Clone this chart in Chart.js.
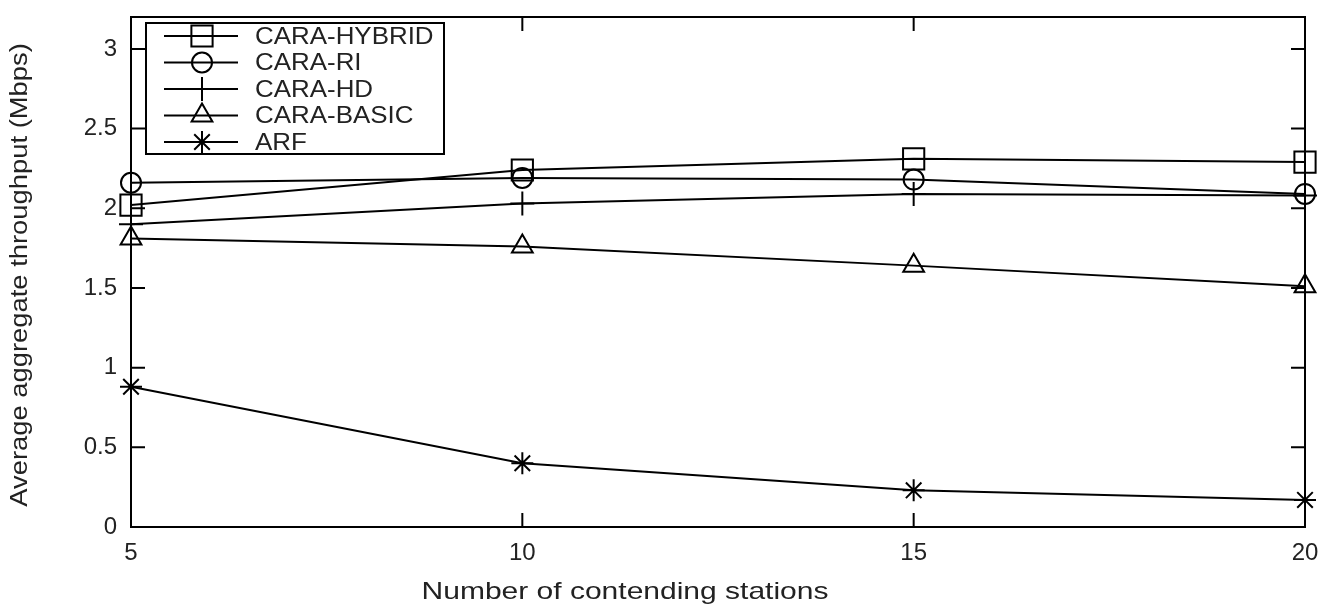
<!DOCTYPE html>
<html>
<head>
<meta charset="utf-8">
<script src="https://cdn.jsdelivr.net/npm/chart.js@4.4.0/dist/chart.umd.min.js"></script>
<style>
    body { margin: 0; background: #fff; }
    #wrap { width: 1327px; height: 606px; position: relative; }
</style>
</head>
<body>
<div id="wrap"><canvas id="throughputChart"></canvas></div>
<script>
// Data
const stations = [5, 10, 15, 20];
const caraHybrid = [2.02, 2.24, 2.31, 2.29];
const caraRi = [2.16, 2.19, 2.18, 2.09];
const caraHd = [1.9, 2.03, 2.09, 2.08];
const caraBasic = [1.81, 1.76, 1.64, 1.51];
const arf = [0.88, 0.4, 0.23, 0.17];

const xTicks = [5, 10, 15, 20];
const yTicks = [0, 0.5, 1, 1.5, 2, 2.5, 3];

const xTitle = 'Number of contending stations';
const yTitle = 'Average aggregate throughput (Mbps)';

const FONT = "'Liberation Sans', Arial, sans-serif";
const INK = '#222';

function toPoints(values) {
    return stations.map((x, i) => ({ x: x, y: values[i] }));
}

function makeSet(label, values, style, radius) {
    return {
        label: label,
        data: toPoints(values),
        borderColor: '#000',
        backgroundColor: 'rgba(0,0,0,0)',
        borderWidth: 2,
        pointStyle: style,
        pointRadius: radius,
        pointBorderColor: '#000',
        pointBackgroundColor: 'rgba(0,0,0,0)',
        pointBorderWidth: 2,
        fill: false,
        tension: 0
    };
}

// no extra padding for tick labels, so the plot box lands where the figure has it
function noPad(scale) {
    scale.paddingTop = 0;
    scale.paddingBottom = 0;
    scale.paddingLeft = 0;
    scale.paddingRight = 0;
}

// text a bit wider than the font, as in the scanned figure
function stretchedText(ctx, text, x, y, size, stretch, angle) {
    ctx.save();
    ctx.translate(x, y);
    ctx.rotate(angle);
    ctx.scale(stretch, 1);
    ctx.font = size + 'px ' + FONT;
    ctx.fillText(text, 0, 0);
    ctx.restore();
}

// Frame, inward ticks (mirrored), axis titles and the boxed legend, like gnuplot
const framePlugin = {
    id: 'frame',
    afterDraw(chart) {
        const ctx = chart.ctx;
        const area = chart.chartArea;
        const xs = chart.scales.x;
        const ys = chart.scales.y;
        const tick = 14;
        ctx.save();
        ctx.strokeStyle = '#000';
        ctx.lineWidth = 2;
        ctx.strokeRect(area.left, area.top, area.right - area.left, area.bottom - area.top);
        ctx.beginPath();
        yTicks.forEach(v => {
            const y = ys.getPixelForValue(v);
            ctx.moveTo(area.left, y); ctx.lineTo(area.left + tick, y);
            ctx.moveTo(area.right, y); ctx.lineTo(area.right - tick, y);
        });
        xTicks.forEach(v => {
            const x = xs.getPixelForValue(v);
            ctx.moveTo(x, area.bottom); ctx.lineTo(x, area.bottom - tick);
            ctx.moveTo(x, area.top); ctx.lineTo(x, area.top + tick);
        });
        ctx.stroke();

        // axis titles
        ctx.fillStyle = INK;
        ctx.textAlign = 'center';
        ctx.textBaseline = 'middle';
        stretchedText(ctx, xTitle, 625, 592, 24, 1.25, 0);
        stretchedText(ctx, yTitle, 21, (area.top + area.bottom) / 2 + 3, 23, 1.19, -Math.PI / 2);

        // legend
        const box = { left: 146, top: 23, right: 444, bottom: 154 };
        ctx.fillStyle = '#fff';
        ctx.fillRect(box.left, box.top, box.right - box.left, box.bottom - box.top);
        ctx.strokeRect(box.left, box.top, box.right - box.left, box.bottom - box.top);
        const rowH = 26.5;
        ctx.textAlign = 'left';
        chart.data.datasets.forEach((ds, i) => {
            const y = 36 + i * rowH;
            ctx.beginPath();
            ctx.lineWidth = 2;
            ctx.moveTo(164, y); ctx.lineTo(238, y);
            ctx.stroke();
            ctx.fillStyle = 'rgba(0,0,0,0)';
            Chart.helpers.drawPoint(ctx, {
                pointStyle: ds.pointStyle,
                radius: ds.pointRadius,
                borderWidth: 2,
                rotation: 0
            }, 202, y);
            ctx.fillStyle = INK;
            stretchedText(ctx, ds.label, 255, y + 1, 24, 1.08, 0);
        });
        ctx.restore();
    }
};

const ctx = document.getElementById('throughputChart').getContext('2d');
const chart = new Chart(ctx, {
    type: 'line',
    data: {
        datasets: [
            makeSet('CARA-HYBRID', caraHybrid, 'rect', 15),
            makeSet('CARA-RI', caraRi, 'circle', 10),
            makeSet('CARA-HD', caraHd, 'cross', 12),
            makeSet('CARA-BASIC', caraBasic, 'triangle', 12),
            makeSet('ARF', arf, 'star', 11)
        ]
    },
    options: {
        responsive: true,
        maintainAspectRatio: false,
        animation: false,
        clip: false,
        layout: {
            padding: { top: 11, right: 22, left: 0, bottom: 0 }
        },
        plugins: {
            legend: { display: false },
            tooltip: { enabled: false }
        },
        scales: {
            x: {
                type: 'linear',
                min: 5,
                max: 20,
                afterBuildTicks: (scale) => { scale.ticks = xTicks.map(v => ({ value: v })); },
                afterFit: (scale) => { scale.height = 79; noPad(scale); },
                grid: { drawOnChartArea: false, drawTicks: false },
                border: { display: false },
                ticks: {
                    color: INK,
                    padding: 12,
                    maxRotation: 0,
                    callback: (v) => String(v),
                    font: { family: FONT, size: 24 }
                }
            },
            y: {
                type: 'linear',
                min: 0,
                max: 3.2,
                afterBuildTicks: (scale) => { scale.ticks = yTicks.map(v => ({ value: v })); },
                afterFit: (scale) => { scale.width = 131; noPad(scale); },
                grid: { drawOnChartArea: false, drawTicks: false },
                border: { display: false },
                ticks: {
                    color: INK,
                    padding: 14,
                    callback: (v) => String(v),
                    font: { family: FONT, size: 24 }
                }
            }
        }
    },
    plugins: [framePlugin]
});
</script>
</body>
</html>
